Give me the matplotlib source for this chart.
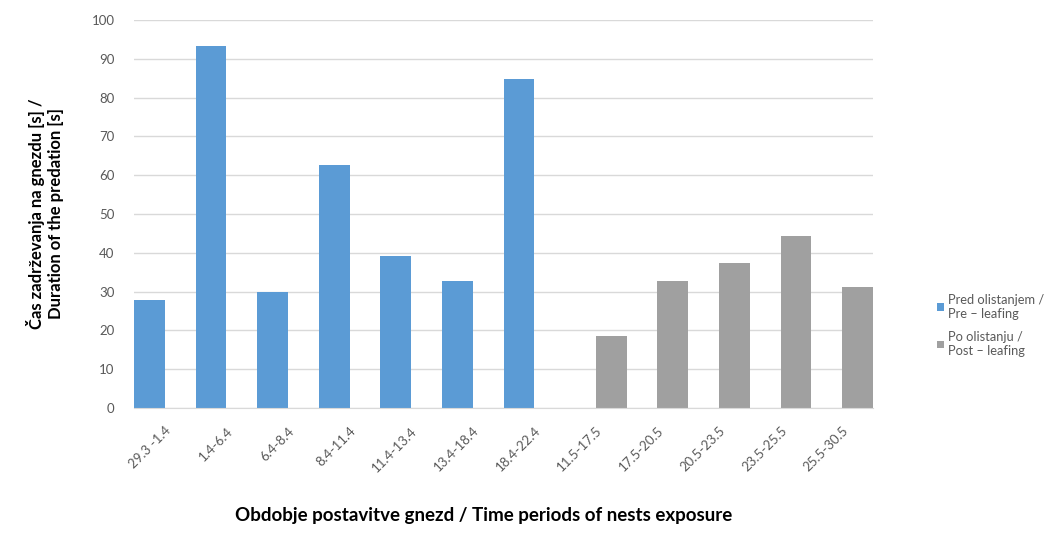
import matplotlib
matplotlib.use('Agg')
import matplotlib.pyplot as plt
import numpy as np

plt.rcParams['font.family'] = ['Lato', 'DejaVu Sans']

# exposure periods (pre-leafing, then post-leafing)
periods = ['29.3 -1.4', '1.4-6.4', '6.4-8.4', '8.4-11.4', '11.4-13.4',
           '13.4-18.4', '18.4-22.4', '11.5-17.5', '17.5-20.5', '20.5-23.5',
           '23.5-25.5', '25.5-30.5']
pre_leafing = [27.8, 93.4, 29.9, 62.5, 39.1, 32.7, 84.8,
               np.nan, np.nan, np.nan, np.nan, np.nan]
post_leafing = [np.nan, np.nan, np.nan, np.nan, np.nan, np.nan, np.nan,
                18.6, 32.7, 37.3, 44.4, 31.1]

pre_label = 'Pred olistanjem /\nPre \u2013 leafing'
post_label = 'Po olistanju /\nPost \u2013 leafing'

blue = '#5B9BD5'
grey = '#A0A0A0'
txt = '#595959'

fig = plt.figure(figsize=(10.59, 5.36), dpi=100)
ax = fig.add_axes([0.1265, 0.2388, 0.6979, 0.7239])

x = np.arange(len(periods))
w = 0.5
ax.bar(x - w / 2, pre_leafing, w, color=blue, label=pre_label)
ax.bar(x + w / 2, post_leafing, w, color=grey, label=post_label)

ax.set_xlim(-0.5, len(periods) - 0.5)
ax.set_ylim(0, 100)
ax.set_yticks(np.arange(0, 101, 10))
ax.yaxis.grid(True, color='#D9D9D9', linewidth=1)
ax.set_axisbelow(True)
for s in ['top', 'right', 'left']:
    ax.spines[s].set_visible(False)
ax.spines['bottom'].set_color('#D9D9D9')
ax.tick_params(axis='both', length=0, colors=txt, labelsize=9.5)
ax.tick_params(axis='y', pad=14)
ax.set_xticks(x)
ax.set_xticklabels(periods, rotation=45, ha='right', va='top',
                   rotation_mode='anchor')
ax.tick_params(axis='x', pad=12)

ax.set_ylabel('\u010cas zadr\u017eevanja na gnezdu [s] /\nDuration of the predation [s]',
              fontsize=12, fontweight='bold', color='black', labelpad=20)
fig.text(0.457, 0.039, 'Obdobje postavitve gnezd / Time periods of nests exposure',
         ha='center', va='center', fontsize=13.5, fontweight='bold')

leg = fig.legend(loc='center left', bbox_to_anchor=(0.874, 0.393),
                 frameon=False, fontsize=9.3, handlelength=0.55,
                 handleheight=0.55, handletextpad=0.3, labelspacing=0.9)
for t in leg.get_texts():
    t.set_color(txt)

fig.savefig('out.png', dpi=100)
